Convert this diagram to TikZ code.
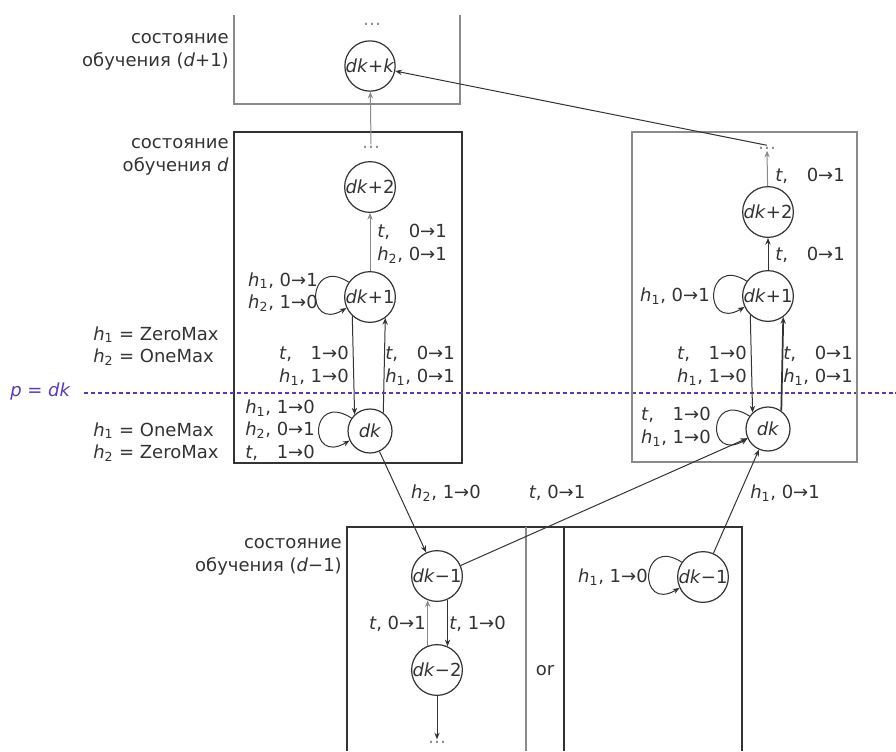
\documentclass[tikz,border=0pt]{standalone}
\usepackage{fontspec}
\setmainfont{DejaVu Sans}
\usepackage{calc}
\usetikzlibrary{arrows.meta}
\newcommand\Hv[1]{\textit{h}\textsubscript{#1}}
\newcommand\Tv{\textit{t}}
\newcommand\Lb[2]{\makebox[\widthof{\Hv{1},}][l]{#1}~#2}
\definecolor{ink}{HTML}{333333}
\definecolor{boxg}{HTML}{8A8A8A}
\definecolor{purp}{HTML}{5A38B8}
\tikzset{
  x=0.75pt, y=-0.75pt,
  every node/.style={text=ink, font=\fontsize{13.5}{17}\selectfont},
  st/.style={circle, draw=ink, line width=0.9pt, minimum size=33pt, inner sep=0pt},
  lab/.style={align=left, inner sep=0pt},
  labr/.style={align=right, inner sep=0pt},
  arr/.style={draw=ink, line width=0.75pt, -{Stealth[length=5pt,width=4pt]}},
  arrg/.style={arr, draw=boxg},
  arrb/.style={arr, line width=1.3pt},
  boxd/.style={draw=ink, line width=0.9pt},
  boxl/.style={draw=boxg, line width=0.9pt},
  dotl/.style={draw=purp, line width=1.6pt, dash pattern=on 3pt off 2.2pt},
  dots/.style={text=boxg, inner sep=1pt},
  lp/.style={arr},
}
\begin{document}
\begin{tikzpicture}
\useasboundingbox (0,0) rectangle (896,751);

% ---------- top box (d+1)
\draw[boxl] (234,15) -- (234,104) -- (460,104) -- (460,15);
\node[labr, anchor=east] (ltop) at (229,52) {состояние\\обучения (\textit{d}+1)};
\node[dots] (dots1) at (372,24) {…};
\node[st] (dkk) at (370,66) {\textit{dk}+\textit{k}};

% ---------- middle left box (d)
\draw[boxd] (234,132) rectangle (462,463);
\node[labr, anchor=east] (lmid) at (229,157) {состояние\\обучения \textit{d}};
\node[dots] (dots2) at (371,147) {…};
\node[st] (dk2L) at (370,187) {\textit{dk}+2};
\node[st] (dk1L) at (370,297) {\textit{dk}+1};
\node[st] (dkL)  at (370,431) {\textit{dk}};

\draw[arrg] (dots2.north) -- (dkk);
\draw[arrg] (dk1L) -- (dk2L);
\node[lab, anchor=west] (l12L) at (377,244) {\Lb{\Tv,}{0→1}\\\Lb{\Hv{2},}{0→1}};

\draw[lp] (dk1L.145) .. controls +(-42,-27) and +(-42,25) .. (dk1L.205);
\node[lab, anchor=east] (loop1L) at (318,292) {\Hv{1}, 0→1\\\Hv{2}, 1→0};

\draw[arr] (dk1L.-133) -- (dkL.133);
\draw[arr] (dkL.54) -- (dk1L.-54);
\node[labr, anchor=east] (ldnL) at (349,366) {\Lb{\Tv,}{1→0}\\\Lb{\Hv{1},}{1→0}};
\node[lab, anchor=west] (lupL) at (385,366) {\Lb{\Tv,}{0→1}\\\Lb{\Hv{1},}{0→1}};

\draw[lp] (dkL.145) .. controls +(-42,-27) and +(-42,25) .. (dkL.205);
\node[lab, anchor=west] (loopL) at (245,430) {\Hv{1}, 1→0\\\Hv{2}, 0→1\\\Lb{\Tv,}{1→0}};

\node[lab, anchor=west] (zo) at (93,346) {\Hv{1} = ZeroMax\\\Hv{2} = OneMax};
\node[lab, anchor=west] (oz) at (93,442) {\Hv{1} = OneMax\\\Hv{2} = ZeroMax};

% ---------- dotted line p = dk
\node[anchor=west, inner sep=0pt, text=purp] (pdk) at (10,392) {\textit{p} = \textit{dk}};
\coordinate (pend) at (896,393);
\draw[dotl] ([xshift=10pt]pdk.east |- pend) -- (pend);

% ---------- right box
\draw[boxl] (632,132) rectangle (857,462);
\node[dots] (dots3) at (767,148) {…};
\node[st] (dk2R) at (768,212) {\textit{dk}+2};
\node[st] (dk1R) at (768,296) {\textit{dk}+1};
\node[st] (dkR)  at (768,429) {\textit{dk}};

\draw[arr] (dots3.north) -- (dkk);
\draw[arrg] (dk2R) -- (dots3.south);
\node[lab, anchor=west] (l23R) at (775,176) {\Lb{\Tv,}{0→1}};
\draw[arr] (dk1R) -- (dk2R);
\node[lab, anchor=west] (l12R) at (775,255) {\Lb{\Tv,}{0→1}};

\draw[lp] (dk1R.145) .. controls +(-42,-27) and +(-42,25) .. (dk1R.205);
\node[lab, anchor=east] (loop1R) at (710,296) {\Hv{1}, 0→1};

\draw[arr] (dk1R.-133) -- (dkR.133);
\draw[arrb] (dkR.54) -- (dk1R.-54);
\node[labr, anchor=east] (ldnR) at (747,366) {\Lb{\Tv,}{1→0}\\\Lb{\Hv{1},}{1→0}};
\node[lab, anchor=west] (lupR) at (783,366) {\Lb{\Tv,}{0→1}\\\Lb{\Hv{1},}{0→1}};

\draw[lp] (dkR.145) .. controls +(-42,-27) and +(-42,25) .. (dkR.205);
\node[lab, anchor=east] (loopR) at (711,427) {\Lb{\Tv,}{1→0}\\\Lb{\Hv{1},}{1→0}};

% ---------- bottom box (d-1)
\draw[boxd] (347,751) -- (347,527) -- (742,527) -- (742,751);
\draw[boxl] (526,527) -- (526,751);
\draw[boxd] (564,527) -- (564,751);
\node[labr, anchor=east] (lbot) at (342,557) {состояние\\обучения (\textit{d}−1)};
\node[st] (dkm1L) at (437,576) {\textit{dk}−1};
\node[st] (dkm2L) at (437,670) {\textit{dk}−2};
\node[dots] (dots4) at (437,742) {…};
\node (orn) at (545,671) {or};

\draw[arrg] (dkm2L.111) -- (dkm1L.-111);
\draw[arr] (dkm1L.-66) -- (dkm2L.66);
\node[labr, anchor=east] (lupB) at (426,624) {\Tv, 0→1};
\node[lab, anchor=west] (ldnB) at (449,624) {\Tv, 1→0};
\draw[arr] (dkm2L) -- (dots4.north);

\node[st] (dkm1R) at (703,577) {\textit{dk}−1};
\draw[lp] (dkm1R.145) .. controls +(-42,-27) and +(-42,25) .. (dkm1R.205);
\node[lab, anchor=east] (loopB) at (648,577) {\Hv{1}, 1→0};

% ---------- cross connectors
\draw[arr] (dkL) -- (dkm1L);
\node[lab] (lh2) at (446,493) {\Hv{2}, 1→0};
\draw[arr] (dkm1L) -- (dkR);
\node[lab] (lt01) at (557,493) {\Tv, 0→1};
\draw[arr] (dkm1R) -- (dkR);
\node[lab, anchor=west] (lh1) at (750,493) {\Hv{1}, 0→1};
\end{tikzpicture}
\end{document}
